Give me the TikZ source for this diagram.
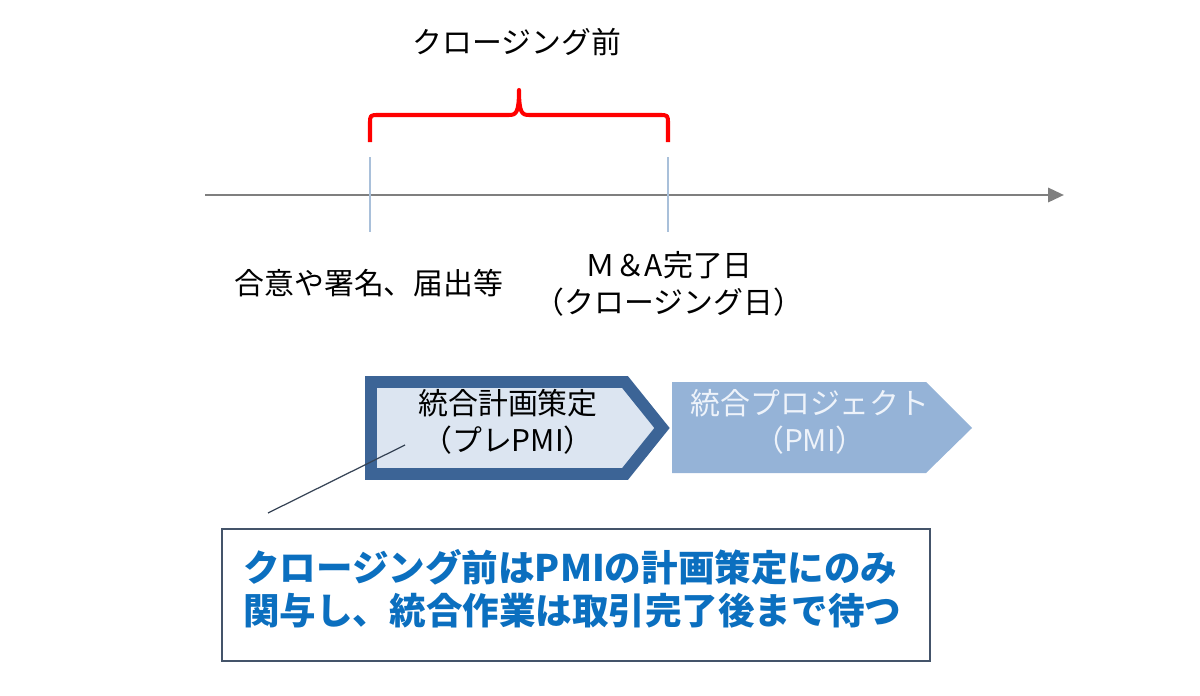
\documentclass[tikz,border=0pt]{standalone}
\usepackage{fontspec}
\setmainfont{Noto Sans CJK JP}
\usepackage{tikz}
\usetikzlibrary{arrows.meta}
\definecolor{axisgray}{HTML}{7F7F7F}
\definecolor{tickblue}{HTML}{A9C0DA}
\definecolor{bracered}{HTML}{FF0000}
\definecolor{planedge}{HTML}{3C6496}
\definecolor{planfill}{HTML}{DCE5F1}
\definecolor{projfill}{HTML}{95B3D7}
\definecolor{projtext}{HTML}{EEF3FA}
\definecolor{boxedge}{HTML}{44546A}
\definecolor{notetext}{HTML}{0B6FBF}
\tikzset{
	lbl/.style={font=\fontsize{17}{21}\selectfont, align=center, inner sep=0pt},
	tick/.style={tickblue, line width=0.6pt},
}

\begin{document}
\begin{tikzpicture}[x=0.02cm, y=-0.02cm]
	\useasboundingbox (0,0) rectangle (1200,696);

	% time axis
	\coordinate (axL) at (205,195);
	\coordinate (axR) at (1064,195);
	\draw[axisgray, line width=1.6pt, -{Triangle[length=9pt, width=8pt]}] (axL) -- (axR);
	\coordinate (sig) at (370,157);
	\coordinate (clo) at (668,157);
	\draw[tick] (sig) -- ++(0,75);
	\draw[tick] (clo) -- ++(0,75);

	% brace
	\draw[bracered, line width=2.3pt, line join=round]
		(370,142) -- (370,124) .. controls (370,115) .. (379,115)
		-- (509,115) .. controls (516,115) and (519,113) .. (519,90)
		.. controls (519,113) and (522,115) .. (529,115)
		-- (659,115) .. controls (668,115) .. (668,124) -- (668,142);
	\node[lbl] (pre) at (517,42) {クロージング前};

	\node[lbl] (signlbl) at (369,283) {合意や署名、届出等};
	\node[lbl] (closelbl) at (669,284) {Ｍ＆A完了日\\（クロージング日）};

	% phases
	\draw[planedge, fill=planfill, line width=6.8pt, miter limit=4]
		(371,382) -- (625,382) -- (662,428) -- (625,474) -- (371,474) -- cycle;
	\fill[projfill] (672,382) -- (926,382) -- (972,428) -- (926,473) -- (672,473) -- cycle;
	\node[lbl] (plan) at (508,422) {統合計画策定\\（プレPMI）};
	\node[lbl, text=projtext] (proj) at (810,422) {統合プロジェクト\\（PMI）};

	% note
	\node[draw=boxedge, line width=0.9pt, fill=white, minimum width=708*0.02cm,
		minimum height=132*0.02cm, anchor=north west] (note) at (221,528) {};
	\node[font=\fontsize{20.8}{24.5}\bfseries, text=notetext, align=left, anchor=west,
		inner sep=0pt] (notetxt) at (243,589)
		{クロージング前はPMIの計画策定にのみ\\関与し、統合作業は取引完了後まで待つ};
	\coordinate (tail) at (405,445);
	\coordinate (lead) at (268,513);
	\draw[boxedge!80!black, line width=0.7pt] (tail) -- (lead);
\end{tikzpicture}
\end{document}
